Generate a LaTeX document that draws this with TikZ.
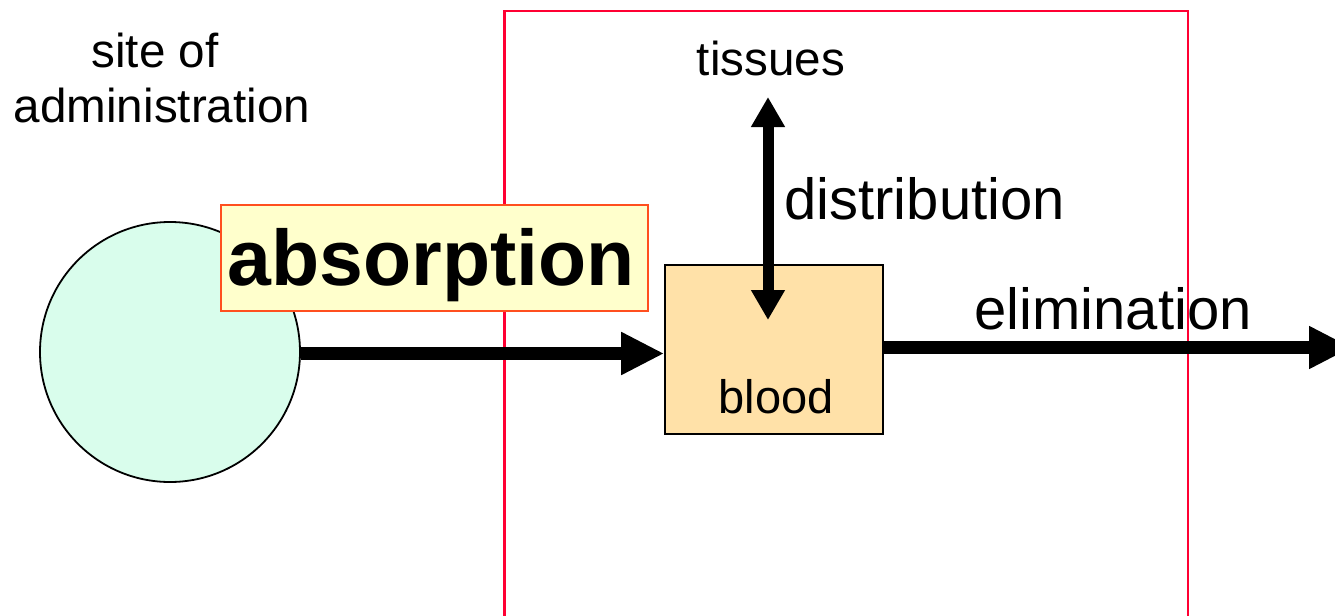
\documentclass[tikz,border=0pt]{standalone}
\usepackage{fontspec}
\setmainfont{Liberation Sans}
\usetikzlibrary{arrows.meta}
\definecolor{siteFill}{RGB}{217,253,236}
\definecolor{absFill}{RGB}{255,255,204}
\definecolor{absLine}{RGB}{255,79,31}
\definecolor{bloodFill}{RGB}{255,225,168}
\definecolor{bodyLine}{RGB}{255,0,51}
\tikzset{
  label24/.style={inner sep=0pt, anchor=base, font=\fontsize{23.8pt}{28pt}\selectfont},
  label29/.style={inner sep=0pt, anchor=base west, font=\fontsize{29pt}{34pt}\selectfont},
  fatarrow/.style={line width=6.5pt, -{Triangle[length=21.5pt,width=20pt]}},
  distarrow/.style={line width=5.5pt, {Triangle[length=15pt,width=16pt]}-{Triangle[length=15pt,width=16pt]}},
}
\begin{document}
\begin{tikzpicture}[x=0.5pt,y=-0.5pt]
\useasboundingbox (0,0) rectangle (1335,616);

% compartments
\node[circle, draw=black, line width=0.9pt, fill=siteFill, minimum size=130pt, inner sep=0pt] (site) at (170,352) {};
\node[draw=black, line width=0.8pt, fill=bloodFill, minimum width=109pt, minimum height=84.5pt, inner sep=0pt] (blood) at (774,349.5) {};
\node[label24, font=\fontsize{23.5pt}{28pt}\selectfont] (bloodtxt) at (776,413) {blood};

% labels
\node[label24] (siteof) at (155,67) {site of};
\node[label24] (admin) at (162,122) {administration};
\node[label24] (tissues) at (771,75) {tissues};
\node[label29] (distlbl) at (784,219) {distribution};
\node[label29] (elimlbl) at (974,329) {elimination};

% body boundary, open at the bottom
\draw[bodyLine, line width=1.3pt] (504.5,640) -- (504.5,11) -- (1188,11) -- (1188,640);

% flows
\coordinate (distTop) at (768,97);
\coordinate (distBot) at (768,320);
\coordinate (elimEnd) at (1352,347.5);
\draw[fatarrow] (site.east |- 0,353.5) -- (blood.west |- 0,353.5);
\draw[fatarrow] (blood.east |- elimEnd) -- (elimEnd);
\draw[distarrow] (distBot) -- (distTop);

% absorption label
\node[draw=absLine, line width=1pt, fill=absFill, minimum width=213.5pt, minimum height=53pt, inner sep=0pt] (absbox) at (434.5,258) {};
\node[inner sep=0pt, anchor=base, font=\fontsize{39.4pt}{44pt}\selectfont\bfseries] (abslbl) at (431,285) {absorption};
\end{tikzpicture}
\end{document}
